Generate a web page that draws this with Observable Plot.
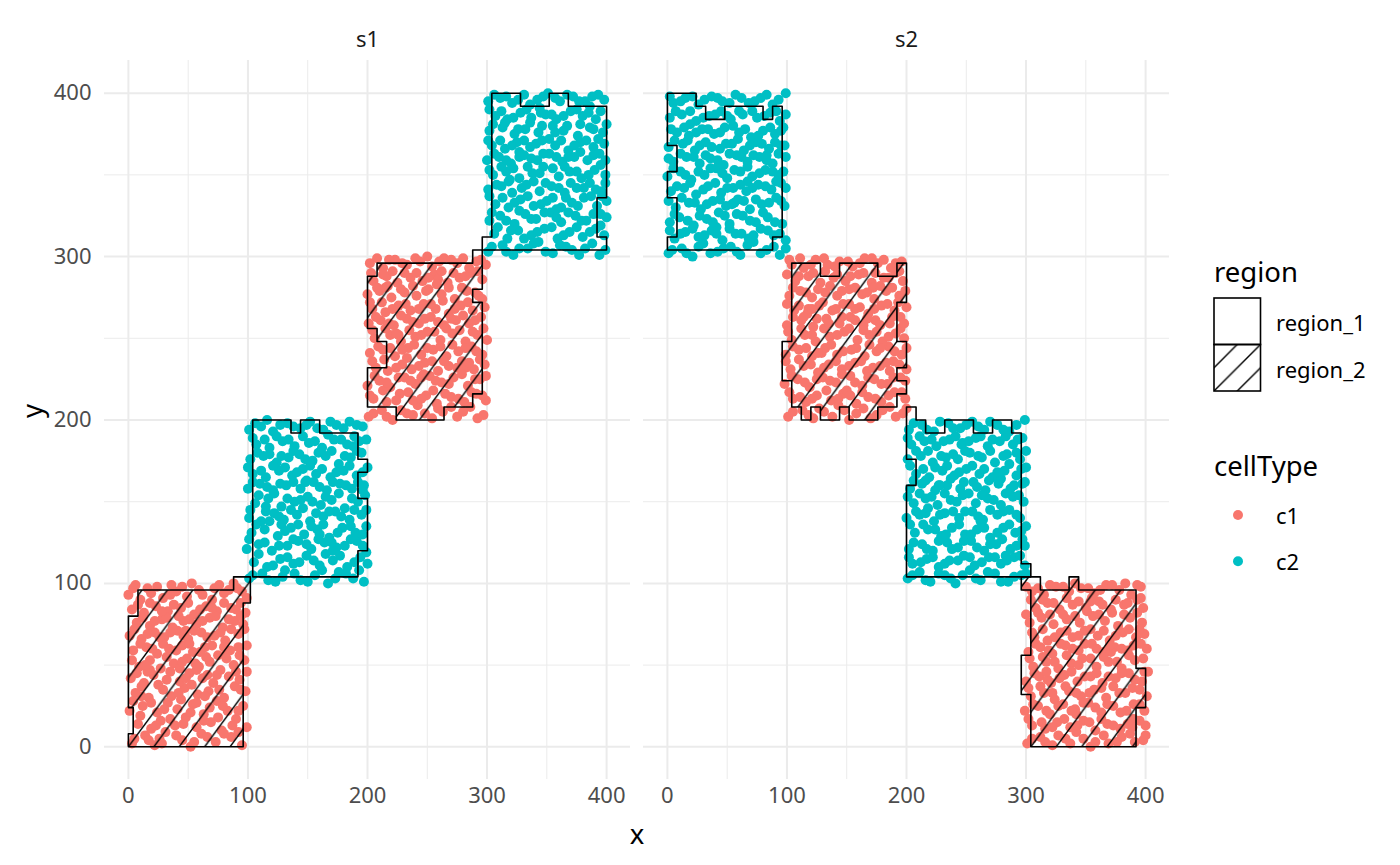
<!DOCTYPE html>
<html><head><meta charset="utf-8">
<script src="https://cdn.jsdelivr.net/npm/d3@7"></script>
<script src="https://cdn.jsdelivr.net/npm/@observablehq/plot@0.6"></script>
<style>
body{margin:0;background:#fff;font-family:"Noto Sans",sans-serif;}
#wrap{position:relative;width:1400px;height:865px;}
#wrap svg.overlay{position:absolute;left:0;top:0;pointer-events:none;}
</style></head><body><div id="wrap"></div>
<script>
// ---- categories / ticks ----
const samples = ["s1", "s2"];
const cellTypes = ["c1", "c2"];
const cellColors = ["#F8766D", "#00BFC4"];
const regions = ["region_1", "region_2"];
const majorTicks = [0, 100, 200, 300, 400];
const minorTicks = [50, 150, 250, 350];

// ---- cell points (x,y pairs) ----
const s1_c1_a = [3,2,14,7,22,1,31,9,45,4,52,0,61,8,73,3,86,6,95,1,
8,14,19,11,27,16,39,13,48,18,57,12,69,15,78,10,90,17,99,12,
1,22,12,25,24,21,33,27,41,23,54,26,63,20,74,28,83,22,96,25,
6,33,17,30,29,35,36,31,47,36,58,32,67,34,80,30,89,37,98,34,
2,42,13,39,21,44,32,41,43,40,51,45,62,42,71,39,84,43,93,41,
9,49,18,53,27,48,38,51,49,54,59,49,68,52,77,47,88,50,97,53,
4,59,15,61,24,57,34,60,45,62,54,58,64,61,75,56,85,59,99,62,
1,68,11,66,22,70,30,67,41,71,50,66,61,70,72,68,81,65,92,69,
7,76,18,74,28,78,37,73,46,77,57,75,68,79,79,73,89,77,96,75,
3,84,13,82,23,86,33,83,44,85,55,81,65,86,74,83,86,85,98,82,
0,93,10,90,19,94,29,91,40,95,49,92,59,96,70,90,80,94,91,97,
6,99,16,97,36,99,53,100,76,99,88,100,
26,5,57,27,43,48,66,44,11,31,82,58,35,93,94,88,48,71,16,46];
const s1_c1_a2 = [5,5,17,4,28,2,40,7,55,3,66,6,80,8,92,9,
10,19,23,13,35,17,46,14,63,16,75,18,87,13,
4,28,19,27,30,23,44,29,52,21,68,24,79,25,92,22,
11,37,25,38,42,33,53,38,64,31,76,35,94,35,
7,45,18,47,35,46,48,42,57,47,74,44,90,46,99,46,
3,53,14,50,32,55,45,52,56,51,65,55,82,54,93,56,
10,63,20,60,29,63,40,59,51,63,60,58,70,62,80,61,92,61,
5,72,16,69,26,67,35,70,46,68,55,71,66,67,77,70,86,72,97,72,
12,79,22,77,32,79,42,80,51,78,62,77,73,80,84,78,94,80,
8,87,18,88,28,83,38,87,50,88,60,84,70,85,80,88,90,84,99,91,
4,97,24,98,45,98,62,93,72,97,84,96,95,95];
const s1_c2_b = [101,103,112,106,123,101,131,108,144,102,156,105,167,100,176,107,188,103,197,101,
105,113,116,110,127,115,138,112,149,117,160,111,171,114,183,110,194,116,200,112,
99,121,109,124,120,120,133,123,142,126,153,121,164,125,174,122,186,127,196,123,
103,131,114,133,125,129,136,134,147,130,158,133,168,128,179,134,190,131,199,135,
101,140,111,138,122,143,130,139,141,142,152,138,163,141,173,144,185,139,195,142,
106,149,117,152,128,147,139,150,150,153,161,148,170,151,181,146,192,150,198,154,
100,158,110,161,121,157,132,160,144,158,155,162,166,157,177,161,187,158,197,160,
104,167,115,165,126,169,137,166,146,170,157,167,169,165,180,169,191,166,200,171,
102,176,113,178,124,174,134,177,143,179,154,175,165,178,176,173,186,177,195,180,
107,185,118,183,129,187,139,184,151,186,162,183,172,188,183,185,193,187,
101,194,111,196,121,193,133,198,144,195,152,199,163,194,174,197,185,199,196,196,
128,136,148,162,171,120,115,147,189,190,160,130];
const s1_c2_b2 = [104,105,117,102,129,104,139,106,150,101,162,108,173,103,182,106,193,108,
109,118,121,111,133,116,143,113,155,114,165,118,177,117,189,113,199,119,
101,127,114,125,126,123,138,127,149,124,159,127,170,125,181,123,191,126,
107,136,118,138,131,132,142,136,153,135,163,136,175,131,186,135,196,130,
102,145,115,144,126,141,136,145,146,146,157,143,168,144,178,141,189,145,199,145,
109,154,122,155,133,152,144,151,154,150,165,153,176,155,187,152,196,157,
104,162,116,159,127,161,138,162,149,163,160,159,171,162,182,160,192,162,
100,171,111,169,121,172,131,171,141,168,152,172,162,170,174,168,185,172,196,168,
108,180,118,179,128,178,138,181,148,176,159,180,170,181,181,178,191,181,
104,189,114,188,124,190,134,188,146,190,156,187,167,191,178,188,188,184,199,188,
106,198,116,200,127,197,138,196,149,197,158,195,169,199,180,195,191,197];
const s1_c1_c = [201,202,212,206,221,200,233,204,242,209,254,201,263,205,275,202,286,208,297,203,
205,213,216,211,227,216,238,212,249,215,258,210,270,214,281,211,291,216,299,212,
200,221,210,224,219,220,231,226,240,222,252,227,262,223,272,226,284,221,294,225,
207,232,217,230,229,234,237,231,248,235,259,230,268,233,279,236,289,231,298,234,
202,241,213,243,223,239,234,244,245,240,255,243,266,239,276,242,287,245,296,240,
206,250,219,252,228,248,240,251,250,254,261,249,271,253,282,248,292,252,300,249,
201,259,211,261,222,258,233,262,243,259,253,263,264,258,274,261,285,259,295,263,
204,268,215,266,226,270,236,267,247,271,257,268,268,265,278,270,288,267,298,269,
200,277,210,279,220,275,231,278,241,276,251,280,262,277,273,274,283,279,293,276,
205,285,216,288,225,284,236,287,246,285,256,289,267,284,277,287,286,290,296,286,
202,296,213,293,223,298,233,295,244,297,254,294,264,299,275,296,285,293,295,298,
245,226,226,252,282,232,259,286,215,281];
const s1_c1_c2 = [205,204,216,202,228,206,238,203,248,204,259,207,270,208,280,205,292,201,
202,215,213,218,224,212,234,217,245,213,255,218,265,216,276,213,287,217,296,215,
206,227,216,223,226,226,236,224,247,228,257,224,268,222,279,228,290,225,299,227,
204,236,214,237,224,232,233,238,243,233,254,236,264,236,275,232,285,235,294,237,
209,245,219,244,229,243,239,246,250,244,261,245,271,246,282,244,291,242,
204,255,215,256,224,253,235,255,245,252,256,254,266,256,277,255,288,254,297,256,
207,263,218,259,228,264,238,260,248,262,259,260,270,262,280,264,290,261,
202,272,212,272,221,268,232,271,243,268,253,271,263,273,273,268,284,272,296,274,
208,281,217,282,228,280,238,282,249,279,258,283,268,281,279,281,290,278,
203,290,213,289,221,291,231,290,241,290,251,287,262,291,272,290,282,288,292,291,
208,299,218,298,229,296,240,299,250,300,260,297,270,298,280,299,291,297,299,295];
const s1_c2_d = [301,303,313,307,322,301,334,305,343,309,355,302,366,306,377,301,388,308,399,304,
306,314,317,311,326,316,337,313,348,317,359,311,369,315,380,312,391,317,398,313,
302,322,311,325,323,320,332,326,341,323,353,327,362,321,374,325,383,322,395,326,
307,332,318,330,328,335,339,331,350,334,358,329,371,333,381,336,392,331,400,334,
301,341,312,343,321,339,333,344,344,340,354,343,365,339,375,342,386,345,396,340,
305,350,316,352,327,348,338,351,347,355,360,349,369,352,379,348,390,353,399,350,
300,359,310,361,320,357,331,362,342,359,352,363,363,358,373,361,384,359,394,363,
304,368,315,366,325,370,336,367,346,371,357,368,368,365,378,370,389,367,398,369,
302,377,313,379,323,375,332,378,343,376,355,380,364,377,376,374,386,379,397,376,
307,386,317,384,328,388,337,385,349,387,358,384,370,389,380,386,391,384,
301,395,311,397,321,394,331,399,342,396,351,400,361,395,372,398,382,395,393,399,
327,361,362,330,386,392,345,388,319,347];
const s1_c2_d2 = [304,306,316,303,327,305,339,308,349,303,361,307,371,304,382,305,394,301,
309,318,320,316,331,311,342,315,354,318,364,313,375,318,386,315,395,319,
304,327,316,322,327,328,337,323,348,327,358,324,368,327,379,322,389,326,400,324,
302,337,313,336,323,333,334,337,345,332,355,336,366,336,376,331,387,337,396,337,
308,344,318,346,329,342,339,346,349,345,360,342,370,345,381,342,391,341,399,345,
302,353,312,355,322,354,334,355,344,351,355,354,365,355,375,352,385,350,395,356,
306,363,316,359,327,364,337,360,347,363,358,361,368,361,378,364,389,362,399,359,
301,371,311,371,321,368,331,371,341,369,352,372,362,371,373,368,383,371,393,372,
305,381,315,382,326,378,336,382,346,380,357,376,367,380,378,381,389,378,400,381,
302,390,312,389,322,385,333,390,344,391,354,387,364,386,375,390,385,388,395,389,
306,399,316,398,326,396,336,393,347,398,357,397,367,399,377,395,388,398,398,396];
const s2_c2_e = [1,302,12,305,21,300,30,308,42,303,53,306,61,301,72,309,83,304,94,301,
6,311,15,315,26,312,37,316,46,310,57,314,68,311,78,317,89,313,99,310,
2,321,10,324,22,319,33,323,43,327,52,320,63,325,74,321,84,324,96,320,
7,330,18,333,28,329,38,334,49,331,59,335,69,329,79,332,91,336,98,331,
3,340,14,342,24,338,34,343,45,339,55,342,66,340,76,344,87,341,95,345,
0,349,11,352,20,347,31,350,41,354,50,348,61,352,71,349,82,353,93,350,
5,358,16,361,27,357,36,360,47,356,58,362,67,358,77,361,88,357,99,361,
1,367,13,369,23,365,32,370,44,366,54,369,64,365,74,370,85,366,95,368,
8,376,18,374,29,378,39,375,48,379,60,376,70,373,80,377,90,375,97,379,
2,385,12,387,24,383,35,386,45,389,53,384,63,387,75,385,86,388,94,383,
5,394,15,397,26,393,37,398,46,395,57,399,68,394,78,397,88,393,99,400,
41,318,67,346,19,381,83,362,56,333];
const s2_c2_e2 = [4,304,16,302,26,306,36,302,47,305,58,303,67,307,78,302,89,306,99,305,
2,316,11,314,21,317,31,313,41,314,52,317,62,314,72,313,84,316,94,314,
6,326,17,322,27,325,38,321,48,325,58,326,69,322,80,327,90,321,
1,334,12,336,23,333,33,332,44,335,54,332,64,334,74,335,85,333,95,334,
8,343,19,345,30,341,40,345,50,342,61,344,71,342,82,343,91,346,99,342,
5,354,15,350,26,352,36,354,46,351,56,353,67,355,77,351,88,352,97,352,
1,360,11,363,22,361,32,362,42,359,52,363,62,361,72,362,83,359,93,363,
6,371,17,371,27,368,37,367,49,369,59,372,69,368,79,369,90,370,98,368,
3,378,14,379,24,376,34,378,44,376,55,380,65,378,76,374,86,379,95,377,
7,389,19,389,30,385,40,387,50,386,60,389,71,389,81,386,91,389,99,387,
2,398,11,395,21,398,31,396,42,397,52,394,62,397,73,395,83,399,93,396];
const s2_c1_f = [101,202,113,206,122,201,131,205,143,209,152,200,164,207,175,203,186,208,197,204,
105,213,116,211,125,215,137,212,147,216,158,210,168,214,179,211,190,217,199,213,
98,222,109,225,119,220,130,226,141,223,153,227,163,221,173,225,184,222,195,226,
103,231,114,233,126,229,135,234,146,231,157,235,167,230,178,233,189,236,200,231,
99,240,110,243,121,239,132,244,142,240,154,243,165,239,175,242,185,245,196,240,
104,249,115,252,124,248,136,251,148,254,159,249,169,252,180,248,191,253,198,250,
100,258,112,261,122,257,133,262,144,259,153,263,164,258,174,261,186,259,195,263,
106,267,117,265,127,270,138,267,147,271,157,268,168,265,179,270,190,267,200,269,
102,276,111,279,121,275,132,278,142,276,152,280,163,277,173,274,183,279,194,276,
107,285,118,288,128,284,139,287,149,285,160,289,171,284,181,287,191,290,197,285,
104,295,114,293,124,298,134,295,144,297,155,294,165,299,176,296,187,293,196,297,
129,241,172,281,150,218,118,268,186,230];
const s2_c1_f2 = [105,205,118,203,127,207,138,202,148,206,158,204,170,201,180,206,191,202,200,207,
102,217,111,214,121,213,133,218,143,213,153,215,163,217,174,213,185,215,196,217,
104,227,115,223,125,225,136,224,146,228,157,223,168,226,179,222,189,226,199,224,
99,236,110,237,120,234,131,232,141,236,152,233,162,236,172,232,183,235,194,234,
105,245,116,244,126,241,137,246,147,242,158,244,169,246,178,244,190,242,200,244,
101,254,112,256,121,252,131,256,142,252,152,256,164,255,175,254,185,251,195,256,
105,263,114,263,125,262,135,259,146,263,157,261,167,262,178,258,188,263,198,259,
100,271,110,270,121,268,130,272,141,268,152,271,161,269,173,268,184,271,193,272,
105,281,116,278,126,280,136,282,146,279,157,281,167,278,178,282,188,281,199,279,
100,289,110,288,122,290,132,291,142,289,153,288,164,290,174,290,185,287,194,291,
102,298,111,299,120,295,131,299,140,294,151,297,161,296,171,299,181,298,191,296];
const s2_c2_g = [201,103,211,107,220,101,232,105,241,100,253,108,262,102,274,106,285,101,296,105,
205,112,217,115,227,110,236,114,248,117,257,111,269,116,279,112,290,116,299,111,
202,121,213,124,222,120,234,125,243,122,254,126,265,120,275,124,287,121,297,127,
207,131,218,133,229,129,238,134,249,130,259,133,270,128,281,134,291,131,300,135,
200,140,211,142,223,138,232,143,244,140,255,144,264,139,276,142,286,145,295,140,
206,149,216,152,226,148,237,151,247,154,258,149,268,152,279,148,289,153,298,150,
203,158,213,161,224,157,234,160,245,158,256,162,266,157,277,161,287,158,297,161,
208,167,219,165,230,169,240,166,250,170,261,167,272,165,282,169,292,166,300,171,
201,176,212,178,222,174,233,177,243,176,253,180,263,177,274,174,284,179,295,176,
204,185,215,187,225,184,236,188,246,185,258,189,268,184,278,187,289,185,297,189,
202,194,213,197,223,193,235,198,245,195,255,199,265,194,276,197,286,193,299,200,
228,160,262,138,247,186,283,117,216,143];
const s2_c2_g2 = [205,105,216,102,227,106,237,103,247,105,258,103,268,107,279,101,290,104,300,106,
202,116,212,113,222,116,232,112,243,114,253,116,263,113,274,116,284,114,295,117,
206,125,217,121,227,126,238,121,248,126,259,122,270,124,280,127,292,123,299,123,
203,136,214,136,224,133,233,130,244,136,254,130,265,134,276,131,286,136,296,132,
208,144,218,146,228,142,239,144,249,144,260,141,270,145,281,144,292,142,
201,153,211,155,221,153,232,155,242,150,252,155,263,154,273,151,283,155,294,154,
206,163,216,163,227,160,237,164,248,162,259,159,269,163,279,164,290,160,299,162,
203,172,214,170,224,171,234,172,244,168,255,172,265,170,276,168,286,173,296,170,
208,181,218,181,229,178,239,179,249,181,260,178,270,181,281,178,292,180,300,181,
201,189,211,190,221,188,231,187,241,190,252,187,262,190,272,188,283,190,293,188,
206,198,217,194,228,199,239,195,250,197,260,196,270,199,281,194,292,197];
const s2_c1_h = [301,2,312,6,322,1,333,5,342,9,354,0,365,7,376,3,387,8,398,4,
305,13,316,11,326,15,337,12,348,16,358,10,368,14,379,11,390,17,400,13,
299,22,310,25,320,20,331,26,341,23,352,27,363,21,373,25,384,22,395,26,
304,31,315,33,324,29,336,34,346,31,357,35,367,30,378,33,389,36,401,31,
300,40,311,43,321,39,332,44,343,40,354,43,364,39,375,42,386,45,397,40,
306,49,317,52,327,48,338,51,347,54,359,49,369,52,380,48,391,53,402,46,
302,58,312,61,322,57,333,62,344,59,355,63,365,58,374,61,385,59,396,63,
307,67,318,65,329,70,339,67,349,71,360,68,370,65,381,70,392,67,399,69,
303,76,313,79,323,75,334,78,345,76,356,80,366,77,377,74,387,79,397,76,
308,85,318,88,328,84,339,87,350,85,361,89,371,84,382,87,393,90,398,85,
305,95,315,93,325,98,336,95,346,97,357,94,367,99,378,96,388,93,396,98,
342,20,371,58,318,41,389,12,355,91];
const s2_c1_h2 = [305,5,316,3,327,7,337,2,348,5,358,3,369,2,380,6,391,3,400,7,
302,17,313,15,322,12,332,17,343,13,353,15,363,17,373,13,385,14,395,16,
306,26,317,22,327,25,338,22,348,27,358,24,368,26,379,21,390,26,399,22,
302,36,312,37,322,33,333,37,342,33,353,33,363,36,373,37,383,33,395,35,
307,45,317,46,328,42,338,46,349,43,359,45,369,43,380,45,391,41,399,46,
303,54,314,55,324,52,334,56,344,50,354,54,365,55,376,52,386,56,398,54,
308,63,319,59,329,63,339,60,349,63,359,60,370,62,380,60,390,62,401,60,
305,70,314,72,324,67,334,71,344,68,354,72,365,71,375,68,386,72,395,72,
300,81,310,82,320,81,331,81,341,80,351,83,361,81,372,82,382,81,393,82,
304,90,314,90,323,88,334,91,344,89,354,89,364,87,375,90,385,88,396,91,
300,98,310,97,320,99,331,98,341,100,352,97,362,96,372,99,383,100,393,99];

// ---- region outlines (vertex x,y pairs) ----
const s1_region2_a = [0,0,0,8,4,8,4,24,0,24,0,80,8,80,8,96,88,96,88,104,102,104,102,88,96,88,96,0];
const s1_region1_b = [104,200,136,200,136,192,144,192,144,200,160,200,160,192,192,192,192,176,200,176,200,168,192,168,192,152,200,152,200,120,192,120,192,104,104,104];
const s1_region2_c = [208,296,288,296,288,304,296,304,296,280,288,280,288,272,296,272,296,216,288,216,288,208,264,208,264,200,224,200,224,208,200,208,200,232,216,232,216,248,208,248,208,256,200,256,200,288,208,288];
const s1_region1_d = [304,400,328,400,328,392,352,392,352,400,368,400,368,392,400,392,400,336,392,336,392,312,400,312,400,304,296,304,296,312,304,312];
const s2_region1_e = [0,400,24,400,24,392,32,392,32,384,48,384,48,392,80,392,80,384,88,384,88,392,96,392,96,312,88,312,88,304,0,304,0,312,8,312,8,336,0,336,0,352,8,352,8,368,0,368];
const s2_region2_f = [104,296,128,296,128,288,144,288,144,296,176,296,176,288,192,288,192,296,200,296,200,272,192,272,192,248,200,248,200,232,192,232,192,224,200,224,200,216,192,216,192,208,176,208,176,200,152,200,152,208,144,208,144,200,128,200,128,208,120,208,120,200,112,200,112,208,104,208,104,224,96,224,96,248,104,248];
const s2_region1_g = [200,208,208,208,208,200,216,200,216,192,232,192,232,200,256,200,256,192,272,192,272,200,288,200,288,192,296,192,296,112,304,112,304,104,200,104,200,160,208,160,208,176,200,176];
const s2_region2_h = [296,104,312,104,312,96,336,96,336,104,344,104,344,96,392,96,392,48,400,48,400,24,392,24,392,0,304,0,304,32,296,32,296,56,304,56,304,96,296,96];

// ---- build tables ----
function toPoints(arr, sample, cellType) {
  const out = [];
  for (let i = 0; i < arr.length; i += 2) out.push({x: arr[i], y: arr[i + 1], sample, cellType});
  return out;
}
function toRing(arr, sample, region, id) {
  const out = [];
  for (let i = 0; i < arr.length; i += 2) out.push({x: arr[i], y: arr[i + 1], sample, region, id});
  out.push({x: arr[0], y: arr[1], sample, region, id});
  return out;
}
const points = [
  ...toPoints(s1_c1_a, "s1", "c1"), ...toPoints(s1_c1_a2, "s1", "c1"),
  ...toPoints(s1_c2_b, "s1", "c2"), ...toPoints(s1_c2_b2, "s1", "c2"),
  ...toPoints(s1_c1_c, "s1", "c1"), ...toPoints(s1_c1_c2, "s1", "c1"),
  ...toPoints(s1_c2_d, "s1", "c2"), ...toPoints(s1_c2_d2, "s1", "c2"),
  ...toPoints(s2_c2_e, "s2", "c2"), ...toPoints(s2_c2_e2, "s2", "c2"),
  ...toPoints(s2_c1_f, "s2", "c1"), ...toPoints(s2_c1_f2, "s2", "c1"),
  ...toPoints(s2_c2_g, "s2", "c2"), ...toPoints(s2_c2_g2, "s2", "c2"),
  ...toPoints(s2_c1_h, "s2", "c1"), ...toPoints(s2_c1_h2, "s2", "c1")
];
const ringsR1 = [
  ...toRing(s1_region1_b, "s1", "region_1", "b"), ...toRing(s1_region1_d, "s1", "region_1", "d"),
  ...toRing(s2_region1_e, "s2", "region_1", "e"), ...toRing(s2_region1_g, "s2", "region_1", "g")
];
const ringsR2s1 = [...toRing(s1_region2_a, "s1", "region_2", "a"), ...toRing(s1_region2_c, "s1", "region_2", "c")];
const ringsR2s2 = [...toRing(s2_region2_f, "s2", "region_2", "f"), ...toRing(s2_region2_h, "s2", "region_2", "h")];

const chart = Plot.plot({
  width: 1400, height: 865,
  marginLeft: 103, marginRight: 230, marginTop: 60, marginBottom: 86,
  x: {domain: [-20, 420], ticks: majorTicks, tickSize: 0, tickPadding: 8, label: null},
  y: {domain: [-20, 420], ticks: majorTicks, tickSize: 0, tickPadding: 13, label: null},
  fx: {domain: samples, paddingInner: 0.024, paddingOuter: 0, axis: "top", tickSize: 0, tickPadding: 14, label: null},
  color: {domain: cellTypes, range: cellColors},
  style: {fontFamily: "'Noto Sans', sans-serif", fontSize: "22px", color: "#4D4D4D", background: "white"},
  marks: [
    Plot.ruleX(minorTicks, {stroke: "#EBEBEB", strokeWidth: 1}),
    Plot.ruleY(minorTicks, {stroke: "#EBEBEB", strokeWidth: 1}),
    Plot.ruleX(majorTicks, {stroke: "#EBEBEB", strokeWidth: 2}),
    Plot.ruleY(majorTicks, {stroke: "#EBEBEB", strokeWidth: 2}),
    Plot.dot(points, {x: "x", y: "y", fx: "sample", fill: "cellType", r: 5}),
    Plot.line(ringsR1, {x: "x", y: "y", z: "id", fx: "sample", stroke: "black", strokeWidth: 1.6, curve: "linear"}),
    Plot.line(ringsR2s1, {x: "x", y: "y", z: "id", fx: "sample", stroke: "black", strokeWidth: 1.6, fill: "#010203", curve: "linear"}),
    Plot.line(ringsR2s2, {x: "x", y: "y", z: "id", fx: "sample", stroke: "black", strokeWidth: 1.6, fill: "#010204", curve: "linear"})
  ]
});

const wrap = document.getElementById("wrap");
wrap.appendChild(chart);
const svg = d3.select(chart);
const xs = chart.scale("x"), ys = chart.scale("y");

function addHatch(defs, id, x0, y0, W, H) {
  const p = defs.append("pattern").attr("id", id).attr("patternUnits", "userSpaceOnUse")
    .attr("x", x0).attr("y", y0).attr("width", W).attr("height", H);
  p.append("path")
    .attr("d", `M${-W * 0.5},${H * 1.5}L${W * 1.5},${-H * 0.5}M${-W * 0.5},${H * 0.5}L${W * 0.5},${-H * 0.5}M${W * 0.5},${H * 1.5}L${W * 1.5},${H * 0.5}`)
    .attr("stroke", "black").attr("stroke-width", 1.4).attr("fill", "none");
}
const defs = svg.insert("defs", ":first-child");
const hW = 25.4, hH = 25.4 * 1.361;
addHatch(defs, "hatchS1", xs.apply(0), ys.apply(0), hW, hH);
addHatch(defs, "hatchS2", xs.apply(304), ys.apply(0), hW, hH);
svg.selectAll('[fill="#010203"]').attr("fill", "url(#hatchS1)");
svg.selectAll('[fill="#010204"]').attr("fill", "url(#hatchS2)");
svg.selectAll('[aria-label^="fx-axis"] text').attr("fill", "#1A1A1A");

// ---- overlay: axis titles and legends ----
const ov = d3.select(wrap).append("svg").attr("class", "overlay")
  .attr("width", 1400).attr("height", 865)
  .style("font-family", "'Noto Sans', sans-serif");
ov.append("text").attr("x", 637).attr("y", 833).attr("text-anchor", "middle").attr("dominant-baseline", "central")
  .attr("font-size", 27.5).attr("fill", "black").text("x");
ov.append("text").attr("transform", "translate(31,411) rotate(-90)").attr("text-anchor", "middle").attr("dominant-baseline", "central")
  .attr("font-size", 27.5).attr("fill", "black").text("y");

const lg = ov.append("g");
const ldefs = ov.append("defs");
const kp = ldefs.append("pattern").attr("id", "hatchKey").attr("patternUnits", "userSpaceOnUse")
  .attr("x", 1214).attr("y", 391).attr("width", 23.3).attr("height", 23.3);
kp.append("path").attr("d", "M-11.65,34.95L34.95,-11.65M-11.65,11.65L11.65,-11.65M11.65,34.95L34.95,11.65")
  .attr("stroke", "black").attr("stroke-width", 1.4).attr("fill", "none");
lg.append("text").attr("x", 1214).attr("y", 271).attr("dominant-baseline", "central").attr("font-size", 27.5).attr("fill", "black").text("region");
const keyY = [298, 344.5];
regions.forEach((r, i) => {
  lg.append("rect").attr("x", 1214).attr("y", keyY[i]).attr("width", 46.5).attr("height", 46.5)
    .attr("fill", i === 1 ? "url(#hatchKey)" : "white").attr("stroke", "black").attr("stroke-width", 1.6);
  lg.append("text").attr("x", 1276).attr("y", keyY[i] + 24).attr("dominant-baseline", "central")
    .attr("font-size", 22).attr("fill", "black").text(r);
});
lg.append("text").attr("x", 1214).attr("y", 465).attr("dominant-baseline", "central").attr("font-size", 27.5).attr("fill", "black").text("cellType");
cellTypes.forEach((c, i) => {
  const cy = 515 + i * 46.3;
  lg.append("circle").attr("cx", 1238).attr("cy", cy).attr("r", 5).attr("fill", cellColors[i]);
  lg.append("text").attr("x", 1276).attr("y", cy).attr("dominant-baseline", "central")
    .attr("font-size", 22).attr("fill", "black").text(c);
});
</script></body></html>
